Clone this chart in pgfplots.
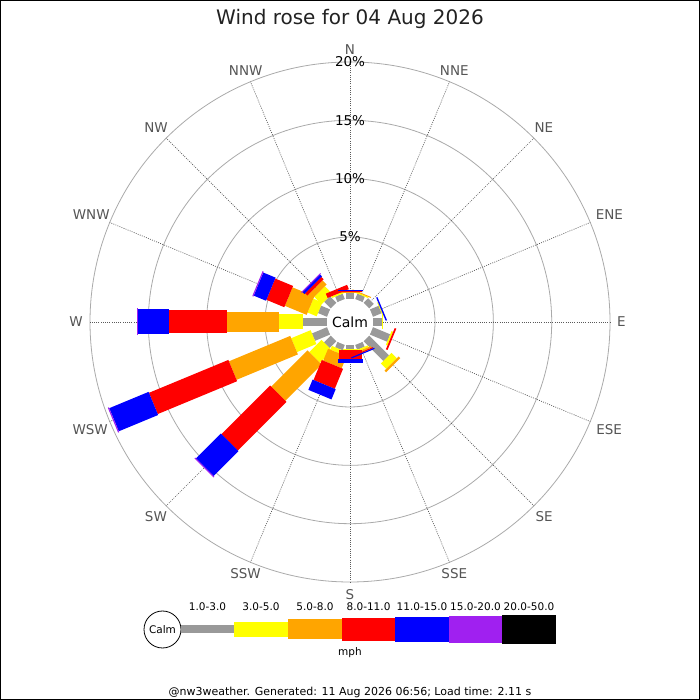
\documentclass[border=0pt]{standalone}
\usepackage{pgfplots}
\pgfplotsset{compat=1.18}
\usepackage{pgfplotstable}
\usepackage{fontspec}
\setmainfont{DejaVu Sans}
\definecolor{wgray}{RGB}{153,153,153}
\definecolor{wyellow}{RGB}{255,255,0}
\definecolor{worange}{RGB}{255,165,0}
\definecolor{wred}{RGB}{255,0,0}
\definecolor{wblue}{RGB}{0,0,255}
\definecolor{wpurple}{RGB}{160,32,240}
\definecolor{gridc}{RGB}{170,170,170}
\definecolor{spokec}{RGB}{90,90,90}
\definecolor{labc}{RGB}{85,85,85}
% cumulative percentages per direction (a = bearing in degrees)
% c0 = start of the 1-3 mph bar (at the calm circle)
\pgfplotstableread{
a     c0    c1    c2    c3    c4     c5     c6     c7
0     -0.30 0.20  0.28  0.32  0.38   0.45   0.45   0.45
22.5  -0.30 0.20  0.30  0.38  0.38   0.38   0.38   0.38
45    -0.30 0.25  0.25  0.25  0.25   0.25   0.25   0.25
67.5  -0.30 0.50  0.58  0.58  0.58   0.70   0.70   0.70
90    -0.30 0.45  0.52  0.52  0.52   0.52   0.52   0.52
112.5 -0.30 1.30  1.45  1.45  1.60   1.60   1.60   1.60
135   -0.30 2.10  2.75  2.95  2.95   2.95   2.95   2.95
157.5 -0.30 0.15  0.30  0.45  0.55   0.65   0.65   0.65
180   -0.30 0.05  0.10  0.15  0.88   1.22   1.22   1.22
202.5 -0.30 0.20  0.55  1.65  3.50   4.45   4.45   4.45
225   -0.30 0.53  2.00  6.40  12.30  15.30  15.40  15.40
247.5 -0.30 1.10  2.90  8.59  15.95  19.60  19.70  19.70
270   -0.30 1.71  3.77  8.28  13.25  15.90  16.00  16.00
292.5 -0.30 0.54  1.38  3.40  5.06   6.20   6.30   6.30
315   -0.30 0.50  1.40  1.90  2.17   2.40   2.48   2.48
337.5 -0.30 0.20  0.35  0.35  0.75   0.75   0.75   0.75
}\rosedata
\def\rz{26.7}
\def\rk{11.67}
\def\lr{267}
\newcommand{\windbar}[4]{%
\addplot[draw=#3, line width=#4, line cap=butt,
  quiver={u={\rk*(\thisrow{#2}-\thisrow{#1})*sin(\thisrow{a})},
          v={\rk*(\thisrow{#2}-\thisrow{#1})*cos(\thisrow{a})}}]
  table[x expr={350+(\rz+\rk*\thisrow{#1})*sin(\thisrow{a})},
        y expr={378+(\rz+\rk*\thisrow{#1})*cos(\thisrow{a})}] {\rosedata};}
\newcommand{\dirlab}[3]{\node[anchor=#2] at (axis cs:{350+\lr*sin(#1)},{378+\lr*cos(#1)}) {#3};}
\begin{document}
\begin{tikzpicture}
\begin{axis}[x=1pt, y=1pt, xmin=0, xmax=700, ymin=0, ymax=700,
  hide axis, clip=false, at={(0,0)}, anchor=south west]
\fill[white] (axis cs:0,0) rectangle (axis cs:700,700);
% grid circles
\pgfplotsinvokeforeach{85,143.35,201.7,260}{
  \draw[gridc, line width=0.8pt] (axis cs:350,378) circle[radius=#1];
}
% spokes
\pgfplotsinvokeforeach{0,1,...,15}{
  \draw[spokec, line width=0.7pt, dash pattern=on 0.9pt off 1.3pt]
    (axis cs:350,378) -- (axis cs:{350+260*sin(#1*22.5)},{378+260*cos(#1*22.5)});
}
% bars
\windbar{c0}{c1}{wgray}{8pt}
\windbar{c1}{c2}{wyellow}{15pt}
\windbar{c2}{c3}{worange}{20pt}
\windbar{c3}{c4}{wred}{23pt}
\windbar{c4}{c5}{wblue}{25pt}
\windbar{c5}{c6}{wpurple}{27pt}
\windbar{c6}{c7}{black}{29pt}
% calm circle
\fill[white] (axis cs:350,378) circle[radius=23];
\node[font=\fontsize{14}{16}\selectfont, inner sep=0pt] at (axis cs:350,378) {Calm};
% ring labels
\node[font=\fontsize{13.5}{15}\selectfont, inner sep=0pt] at (axis cs:350,463) {5\%};
\node[font=\fontsize{13.5}{15}\selectfont, inner sep=0pt] at (axis cs:350,521.35) {10\%};
\node[font=\fontsize{13.5}{15}\selectfont, inner sep=0pt] at (axis cs:350,579.7) {15\%};
\node[font=\fontsize{13.5}{15}\selectfont, inner sep=0pt] at (axis cs:350,638) {20\%};
% direction labels
\begin{scope}[every node/.style={font=\fontsize{13.5}{15}\selectfont, text=labc, inner sep=0pt}]
\dirlab{0}{270}{N}
\dirlab{22.5}{247.5}{NNE}
\dirlab{45}{225}{NE}
\dirlab{67.5}{202.5}{ENE}
\dirlab{90}{180}{E}
\dirlab{112.5}{157.5}{ESE}
\dirlab{135}{135}{SE}
\dirlab{157.5}{112.5}{SSE}
\dirlab{180}{90}{S}
\dirlab{202.5}{67.5}{SSW}
\dirlab{225}{45}{SW}
\dirlab{247.5}{22.5}{WSW}
\dirlab{270}{0}{W}
\dirlab{292.5}{337.5}{WNW}
\dirlab{315}{315}{NW}
\dirlab{337.5}{292.5}{NNW}
\end{scope}
% title
\node[font=\fontsize{20}{24}\selectfont, anchor=base, inner sep=0pt, text={rgb,255:red,34;green,34;blue,34}] at (axis cs:350,675) {Wind rose for 04 Aug 2026};
% legend
\draw[black, line width=0.8pt, fill=white] (axis cs:162.5,70.5) circle[radius=18.5];
\node[font=\fontsize{10.5}{12}\selectfont, inner sep=0pt] at (axis cs:162.5,70.5) {Calm};
\fill[wgray]   (axis cs:181,66.5) rectangle (axis cs:234,74.5);
\fill[wyellow] (axis cs:234,63) rectangle (axis cs:288,78);
\fill[worange] (axis cs:288,60.5) rectangle (axis cs:342,80.5);
\fill[wred]    (axis cs:342,59) rectangle (axis cs:395,82);
\fill[wblue]   (axis cs:395,58) rectangle (axis cs:449,83);
\fill[wpurple] (axis cs:449,57) rectangle (axis cs:502,84);
\fill[black]   (axis cs:502,56) rectangle (axis cs:556,85);
\begin{scope}[every node/.style={font=\fontsize{10.5}{12}\selectfont, inner sep=0pt}]
\node at (axis cs:207.5,93.3) {1.0-3.0};
\node at (axis cs:261,93.3) {3.0-5.0};
\node at (axis cs:315,93.3) {5.0-8.0};
\node at (axis cs:368.5,93.3) {8.0-11.0};
\node at (axis cs:422,93.3) {11.0-15.0};
\node at (axis cs:475.5,93.3) {15.0-20.0};
\node at (axis cs:529,93.3) {20.0-50.0};
\node at (axis cs:350,47) {mph};
\node[font=\fontsize{11}{13}\selectfont] at (axis cs:350,7.5) {@nw3weather. Generated: 11 Aug 2026 06:56; Load time: 2.11 s};
\end{scope}
\draw[black, line width=1pt] (axis cs:0.5,0.5) rectangle (axis cs:699.5,699.5);
\end{axis}
\end{tikzpicture}
\end{document}
